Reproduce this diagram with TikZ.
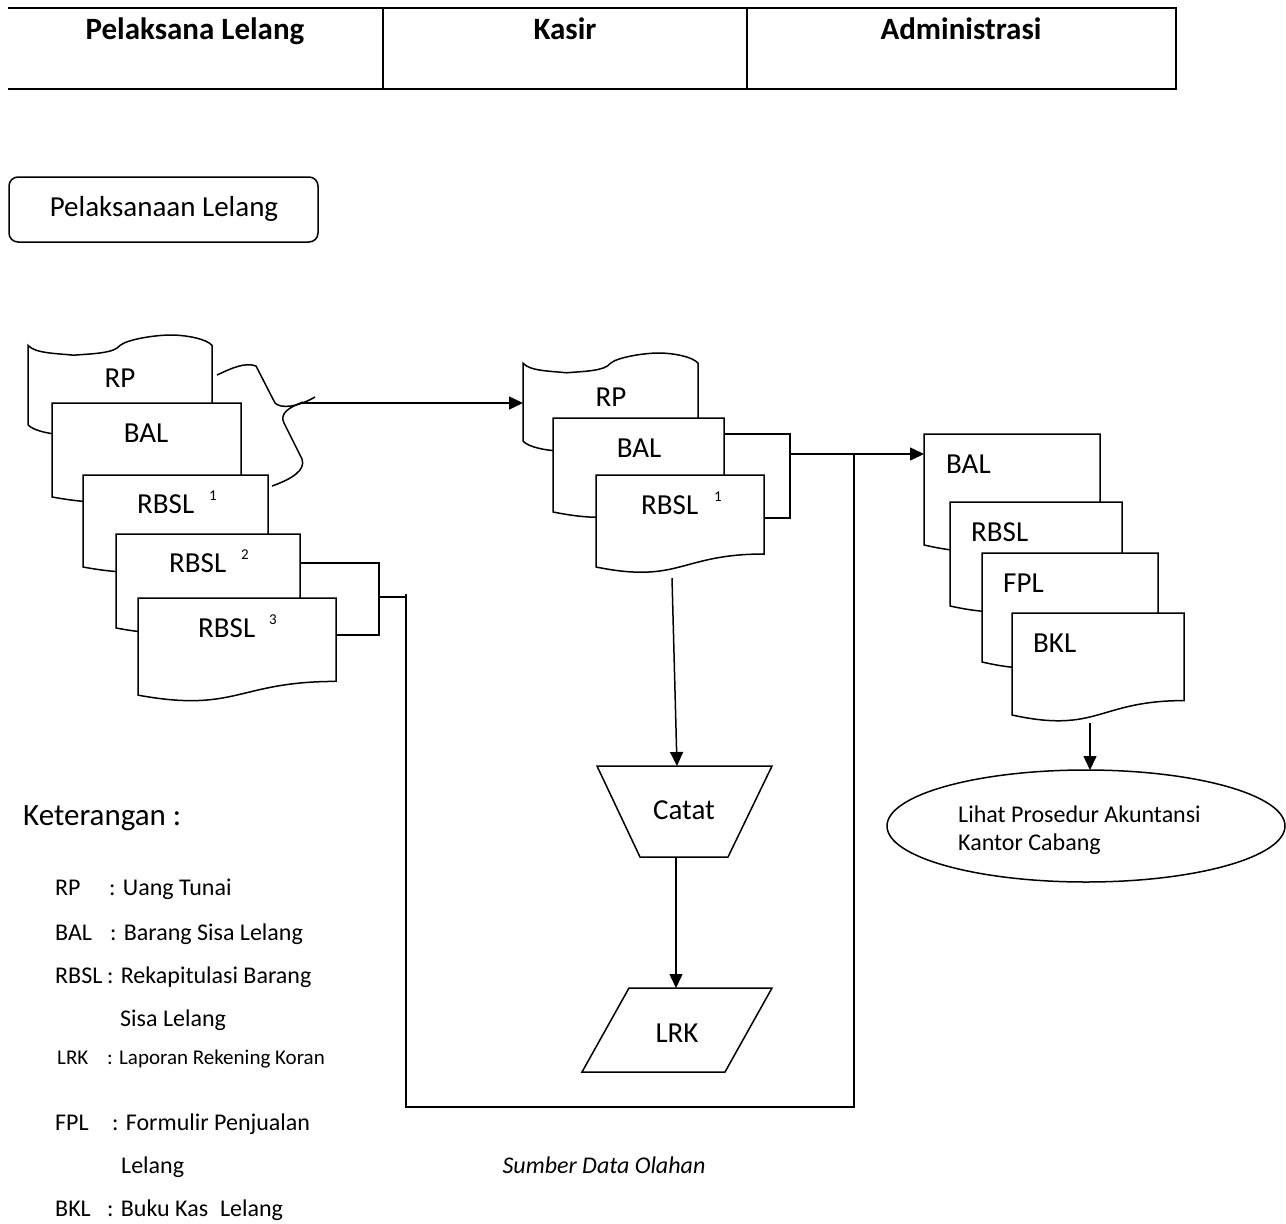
\documentclass[tikz,border=0pt]{standalone}
\usepackage{fontspec}
\setmainfont{Carlito}
\usetikzlibrary{arrows.meta,calc}

\tikzset{
  shp/.style={draw=black, fill=white, line width=1.5pt, line join=miter},
  conn/.style={draw=black, line width=1.5pt},
  arr/.style={conn, -{Triangle[length=14pt,width=13pt]}},
  lbl/.style={inner sep=0pt, anchor=base, font=\fontsize{29}{34}\selectfont},
  lblw/.style={inner sep=0pt, anchor=base west, font=\fontsize{29}{34}\selectfont},
  hdr/.style={inner sep=0pt, anchor=base, font=\fontsize{31}{36}\selectfont\bfseries},
  leg/.style={inner sep=0pt, anchor=base west, font=\fontsize{24}{28}\selectfont},
  legs/.style={inner sep=0pt, anchor=base west, font=\fontsize{21}{25}\selectfont},
}

% document symbol: left x, top y, width, height
\newcommand{\docshape}[4]{%
  \begin{scope}[shift={(#1,#2)},xscale=#3,yscale=#4]
    \path[shp] (0,0) -- (1,0) -- (1,0.802)
      .. controls (0.5,0.802) and (0.5,1.107) .. (0,0.934) -- cycle;
  \end{scope}}

% punched tape symbol: left x, top y, width, height
\newcommand{\tapeshape}[4]{%
  \begin{scope}[shift={(#1,#2)},xscale=#3,yscale=#4]
    \path[shp] (0,0.1032) .. controls (0.038,0.1847) and (0.1579,0.1843) .. (0.2486,0.2019)
      .. controls (0.3486,0.1866) and (0.4681,0.1843) .. (0.4995,0.1051)
      .. controls (0.5384,0.0444) and (0.6875,0.0009) .. (0.775,0)
      .. controls (0.8625,0.0009) and (0.9694,0.0389) .. (1,0.1032)
      -- (1,0.8991)
      .. controls (0.9667,0.8106) and (0.835,0.8097) .. (0.7514,0.7981)
      .. controls (0.6514,0.8130) and (0.5319,0.8167) .. (0.5005,0.8991)
      .. controls (0.4616,0.9569) and (0.3125,1) .. (0.225,1)
      .. controls (0.1375,1) and (0.0306,0.9611) .. (0,0.8991) -- cycle;
  \end{scope}}

\newcommand{\supnum}[1]{\raisebox{13pt}{\fontsize{15}{15}\selectfont #1}}

\begin{document}
\begin{tikzpicture}[x=1pt,y=-1pt]
\useasboundingbox[fill=white] (0,0) rectangle (1286,1224);

% ---- swimlane header ----
\draw[conn] (8,8) -- (1176,8) -- (1176,89) -- (8,89);
\draw[conn] (383,8) -- (383,89);
\draw[conn] (747,8) -- (747,89);
\node[hdr] (hPel) at (195,39) {Pelaksana Lelang};
\node[hdr] (hKas) at (565,39) {Kasir};
\node[hdr] (hAdm) at (961,39) {Administrasi};

% ---- start terminal ----
\draw[shp, rounded corners=9pt] (9,177) rectangle (318,242);
\node[lbl] (start) at (164,216) {Pelaksanaan Lelang};

% ---- Pelaksana Lelang documents ----
\tapeshape{28}{335}{184}{100}
\node[lbl] (rp1) at (120,387) {RP};
\docshape{52}{403}{189}{100.6}
\node[lbl] (bal1) at (146,442) {BAL};
\docshape{83}{475}{185}{98.5}
\node[lblw] (rbsl1) at (137,513) {RBSL\hspace{15pt}\supnum{1}};
\docshape{116}{534}{184}{100.6}
\node[lblw] (rbsl2) at (169,572) {RBSL\hspace{15pt}\supnum{2}};
\docshape{138}{598}{198}{104}
\node[lblw] (rbsl3) at (198,637) {RBSL\hspace{14pt}\supnum{3}};

% brace grouping RP, BAL and RBSL 1
\draw[conn] (217,375) .. controls (232,368) and (245,362) .. (256,366)
  -- (275,403) .. controls (281,409) and (298,407) .. (315,397);
\draw[conn] (303,402) .. controls (290,407) and (279,413) .. (284,423)
  -- (302,459) .. controls (306,470) and (292,479) .. (272,486);

% ---- Kasir documents ----
\tapeshape{523}{353}{175}{98}
\node[lbl] (rp2) at (611,406) {RP};
\docshape{553}{418}{171}{100.6}
\node[lbl] (bal2) at (639,457) {BAL};
\docshape{596}{475}{168}{98.5}
\node[lblw] (rbsl4) at (641,514) {RBSL\hspace{16pt}\supnum{1}};

% Catat (manual operation)
\path[shp] (597,766) -- (772,766) -- (728,857) -- (640,857) -- cycle;
\node[lbl] (catat) at (684,819) {Catat};

% LRK (data)
\path[shp] (629,988) -- (772,988) -- (725,1072) -- (582,1072) -- cycle;
\node[lbl] (lrk) at (677,1042) {LRK};

% ---- Administrasi documents ----
\docshape{924}{434}{176}{118.8}
\node[lblw] (bal3) at (946,473) {BAL};
\docshape{950}{502}{172}{111.3}
\node[lblw] (rbsl5) at (971,541) {RBSL};
\docshape{982}{553}{176}{116.7}
\node[lblw] (fpl) at (1003,592) {FPL};
\docshape{1012}{613}{172}{109.2}
\node[lblw] (bkl) at (1033,652) {BKL};

% off-page terminator
\draw[shp] (1086,826) ellipse [x radius=199pt, y radius=56pt];
\node[inner sep=0pt, anchor=base west, font=\fontsize{24}{28}\selectfont] (lihat1) at (958,822) {Lihat Prosedur Akuntansi};
\node[inner sep=0pt, anchor=base west, font=\fontsize{24}{28}\selectfont] (lihat2) at (958,850) {Kantor Cabang};

% ---- connectors ----
\coordinate (braceTip) at (300,403);
\coordinate (rp2In) at (523,403);
\draw[arr] (braceTip) -- (rp2In);

\coordinate (b1a) at (300,563);
\coordinate (b1b) at (379,563);
\coordinate (b1c) at (379,635);
\coordinate (b1d) at (336,635);
\draw[conn] (b1a) -- (b1b) -- (b1c) -- (b1d);

\coordinate (b1m) at (379,597);
\coordinate (loopA) at (406,597);
\coordinate (loopTop) at (406,594);
\coordinate (loopB) at (406,1107);
\coordinate (loopC) at (854,1107);
\coordinate (loopD) at (854,454);
\draw[conn] (b1m) -- (loopA);
\draw[conn] (loopTop) -- (loopB) -- (loopC) -- (loopD);

\coordinate (b2a) at (724,434);
\coordinate (b2b) at (790,434);
\coordinate (b2c) at (790,518);
\coordinate (b2d) at (764,518);
\draw[conn] (b2a) -- (b2b) -- (b2c) -- (b2d);
\coordinate (b2m) at (790,454);
\coordinate (bal3In) at (924,454);
\draw[arr] (b2m) -- (bal3In);

\coordinate (rbsl4Out) at (672,578);
\coordinate (catatIn) at (677,766);
\draw[arr] (rbsl4Out) -- (catatIn);
\coordinate (catatOut) at (676,857);
\coordinate (lrkIn) at (676,988);
\draw[arr] (catatOut) -- (lrkIn);
\coordinate (bklOut) at (1090,723);
\coordinate (ellIn) at (1090,770);
\draw[arr] (bklOut) -- (ellIn);

% ---- legend ----
\node[inner sep=0pt, anchor=base west, font=\fontsize{31}{36}\selectfont] (ket) at (23,825) {Keterangan :};
\node[leg] (kRP) at (55,895) {RP};
\node[leg] (vRP) at (109,895) {: Uang Tunai};
\node[leg] (kBAL) at (55,940) {BAL};
\node[leg] (vBAL) at (110,940) {: Barang Sisa Lelang};
\node[leg] (kRBSL) at (55,983) {RBSL};
\node[leg] (vRBSL) at (107,983) {: Rekapitulasi Barang};
\node[leg] (vRBSL2) at (120,1026) {Sisa Lelang};
\node[legs] (kLRK) at (57,1064) {LRK};
\node[legs] (vLRK) at (107,1064) {: Laporan Rekening Koran};
\node[leg] (kFPL) at (55,1130) {FPL};
\node[leg] (vFPL) at (112,1130) {: Formulir Penjualan};
\node[leg] (vFPL2) at (121,1173) {Lelang};
\node[leg] (kBKL) at (55,1216) {BKL};
\node[leg] (vBKL) at (107,1216) {: Buku Kas\hspace{12pt}Lelang};

\node[inner sep=0pt, anchor=base, font=\fontsize{24}{28}\selectfont\itshape] (src) at (604,1173) {Sumber Data Olahan};
\end{tikzpicture}
\end{document}
